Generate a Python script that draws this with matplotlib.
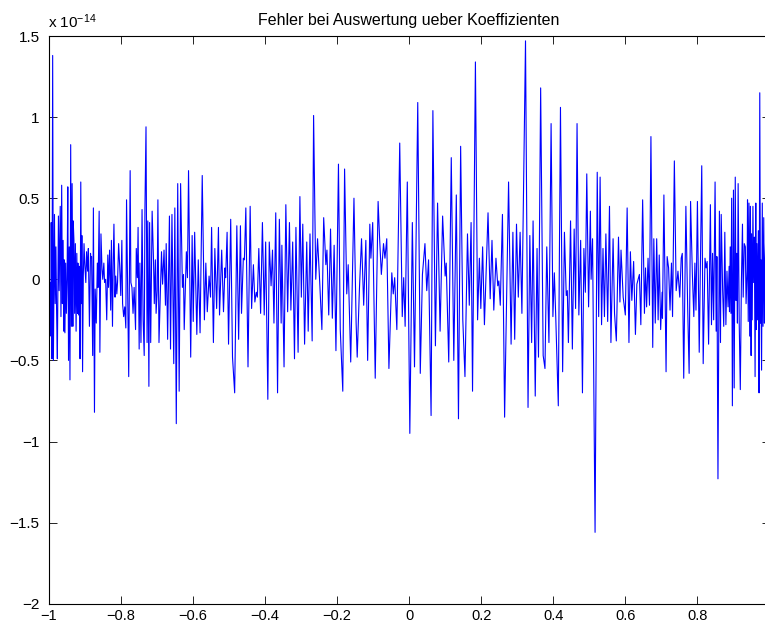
import matplotlib
matplotlib.use("Agg")
import matplotlib.pyplot as plt
import numpy as np

plt.rcParams['font.family'] = ['Liberation Sans', 'DejaVu Sans']
plt.rcParams['mathtext.fontset'] = 'custom'
plt.rcParams['mathtext.rm'] = 'Liberation Sans'
plt.rcParams['mathtext.it'] = 'Liberation Sans'

title = "Fehler bei Auswertung ueber Koeffizienten"
exponent_label = r"x 10$^{-14}$"
x_ticks = [-1, -0.8, -0.6, -0.4, -0.2, 0, 0.2, 0.4, 0.6, 0.8, 1]
y_ticks = [-2, -1.5, -1, -0.5, 0, 0.5, 1, 1.5]

# error values in units of 1e-14
x_a = [-1.000, -0.998, -0.996, -0.994, -0.993, -0.991, -0.989, -0.987, -0.984, -0.982,
       -0.980, -0.978, -0.976, -0.973, -0.971, -0.969, -0.968, -0.966, -0.964, -0.962,
       -0.960, -0.958, -0.957, -0.955, -0.953, -0.951, -0.949, -0.947, -0.945, -0.943,
       -0.941, -0.939, -0.937, -0.935, -0.933, -0.932, -0.930, -0.928, -0.926, -0.924,
       -0.922, -0.920, -0.919, -0.917, -0.915, -0.913, -0.911, -0.909, -0.908, -0.906,
       -0.904, -0.902, -0.900, -0.897, -0.895, -0.892, -0.890, -0.887, -0.884, -0.883,
       -0.881, -0.878, -0.876, -0.873, -0.871, -0.868, -0.865, -0.863, -0.860, -0.858,
       -0.855, -0.852, -0.850, -0.847, -0.845, -0.842, -0.839, -0.836, -0.834, -0.831,
       -0.828, -0.826, -0.823, -0.821, -0.819, -0.816, -0.814, -0.811, -0.809, -0.806,
       -0.803, -0.800, -0.797, -0.795, -0.792, -0.789, -0.786, -0.784, -0.781, -0.778,
       -0.774, -0.772, -0.769, -0.766, -0.763, -0.759, -0.757, -0.754, -0.752, -0.749,
       -0.747, -0.744, -0.741, -0.738, -0.735, -0.733, -0.730, -0.727, -0.725, -0.722,
       -0.720, -0.717, -0.713, -0.709, -0.707, -0.704, -0.702, -0.699, -0.697, -0.694]
y_a = [0.52, -0.19, -0.02, -0.35, 0.35, -0.49, 1.38, -0.50, 0.40, -0.15,
       0.20, -0.21, -0.49, 0.39, -0.07, 0.26, 0.45, -0.23, 0.58, -0.15,
       0.24, -0.32, 0.12, -0.33, 0.10, -0.21, 0.00, 0.57, -0.50, 0.20,
       -0.62, 0.83, -0.29, 0.59, -0.29, 0.36, 0.24, -0.21, 0.22, -0.32,
       0.16, -0.21, 0.10, -0.22, 0.08, -0.49, 0.60, -0.15, 0.27, -0.57,
       0.02, 0.22, 0.10, -0.02, 0.17, 0.05, 0.19, -0.29, 0.16, 0.13,
       0.14, -0.47, 0.44, -0.82, -0.06, -0.27, 0.10, -0.05, 0.42, -0.45,
       0.28, 0.06, 0.00, 0.10, -0.02, 0.00, -0.25, 0.15, -0.05, 0.18,
       -0.19, 0.24, -0.29, 0.10, 0.34, -0.11, 0.02, -0.09, -0.02, 0.22,
       0.08, -0.10, 0.24, -0.15, -0.23, -0.17, -0.30, 0.49, -0.07, -0.60,
       0.67, -0.02, -0.05, -0.21, -0.05, -0.31, 0.19, 0.01, 0.32, -0.43,
       0.10, -0.39, 0.43, -0.25, -0.47, 0.43, 0.94, -0.39, 0.36, -0.66,
       0.35, -0.39, 0.42, 0.10, -0.15, 0.12, -0.21, -0.07, 0.49, -0.39]

x_b = [-0.687, -0.684, -0.680, -0.676, -0.674, -0.670, -0.665, -0.662, -0.658, -0.653,
       -0.650, -0.646, -0.642, -0.638, -0.634, -0.629, -0.626, -0.624, -0.618, -0.615,
       -0.612, -0.606, -0.602, -0.599, -0.595, -0.589, -0.585, -0.580, -0.574, -0.568,
       -0.564, -0.560, -0.555, -0.551, -0.548, -0.543, -0.539, -0.534, -0.529, -0.526,
       -0.520, -0.515, -0.511, -0.509, -0.505, -0.501, -0.495, -0.490, -0.484, -0.478,
       -0.473, -0.468, -0.465, -0.460, -0.457, -0.453, -0.447, -0.441, -0.437, -0.432,
       -0.428, -0.424, -0.421, -0.417, -0.412, -0.407, -0.402, -0.398, -0.392, -0.388,
       -0.383, -0.379, -0.375, -0.370, -0.365, -0.360]
y_b = [0.17, -0.03, 0.18, -0.16, 0.22, -0.37, 0.39, -0.43, 0.40, -0.52,
       0.44, -0.89, 0.59, -0.69, 0.59, -0.05, 0.03, -0.31, 0.17, 0.01,
       0.67, -0.48, 0.27, -0.26, 0.29, -0.34, 0.12, -0.33, 0.64, -0.25,
       0.10, -0.20, 0.02, -0.11, 0.32, -0.39, 0.19, -0.18, 0.32, -0.22,
       0.18, -0.20, 0.07, 0.01, 0.29, -0.40, 0.37, -0.48, -0.70, 0.33,
       -0.37, 0.33, -0.21, 0.13, 0.12, 0.44, -0.54, 0.45, -0.18, 0.09,
       -0.14, -0.08, -0.11, 0.19, -0.21, 0.35, -0.22, 0.23, -0.74, 0.23,
       -0.04, 0.18, -0.27, 0.41, -0.70, 0.37]

x_c = [-0.355, -0.353, -0.347, -0.342, -0.337, -0.332, -0.328, -0.323, -0.318, -0.314,
       -0.308, -0.303, -0.299, -0.295, -0.290, -0.284, -0.280, -0.275, -0.269, -0.265,
       -0.259, -0.254, -0.248, -0.242, -0.237, -0.231, -0.228, -0.223, -0.218, -0.213,
       -0.208, -0.203, -0.196, -0.191, -0.184, -0.179, -0.173, -0.169, -0.162, -0.153,
       -0.147, -0.144, -0.138, -0.132, -0.126, -0.120, -0.115, -0.109, -0.106, -0.101,
       -0.094, -0.086, -0.082, -0.077, -0.071, -0.067, -0.062, -0.056, -0.048, -0.044,
       -0.040, -0.034, -0.026]
y_c = [-0.27, 0.21, -0.54, 0.46, -0.20, 0.35, -0.19, 0.23, -0.49, 0.32,
       -0.45, 0.51, -0.11, 0.34, -0.40, 0.23, -0.32, 0.28, -0.38, 1.01,
       0.00, 0.25, -0.02, -0.31, 0.38, 0.09, 0.18, -0.22, 0.31, -0.24,
       0.21, -0.44, 0.71, -0.31, -0.69, 0.68, -0.09, 0.09, -0.51, 0.50,
       -0.27, -0.48, -0.07, 0.25, -0.16, 0.24, -0.50, 0.34, 0.13, 0.35,
       -0.61, 0.48, 0.26, 0.03, 0.22, 0.13, 0.25, -0.55, 0.04, -0.09,
       0.01, -0.31, 0.84]

x_d = [-0.019, -0.015, -0.011, -0.005, 0.002, 0.009, 0.015, 0.024, 0.031, 0.037,
       0.044, 0.049, 0.054, 0.061, 0.066, 0.073, 0.079, 0.086, 0.093, 0.100,
       0.103, 0.110, 0.117, 0.124, 0.131, 0.137, 0.143, 0.149, 0.155, 0.162,
       0.167, 0.172, 0.176, 0.184, 0.190, 0.195, 0.199, 0.204, 0.209, 0.219,
       0.225, 0.230, 0.235, 0.241, 0.246, 0.249, 0.253, 0.259, 0.265, 0.276,
       0.283, 0.288, 0.293, 0.298, 0.303, 0.308]
y_d = [-0.23, 0.01, -0.29, 0.60, -0.95, 0.35, -0.54, 1.09, -0.58, 0.03,
       0.22, -0.07, 0.12, -0.84, 1.04, -0.41, 0.47, -0.32, 0.39, 0.02,
       0.10, -0.51, 0.75, -0.50, 0.52, -0.86, 0.82, -0.25, -0.60, 0.28,
       -0.16, 0.35, -0.69, 1.34, -0.25, 0.13, -0.18, 0.20, -0.28, 0.41,
       -0.12, 0.24, -0.19, 0.13, -0.04, -0.01, -0.16, 0.40, -0.85, 0.60,
       -0.40, 0.29, -0.37, 0.34, -0.11, 0.29]

x_e = [0.313, 0.323, 0.330, 0.335, 0.340, 0.344, 0.350, 0.355, 0.359, 0.365,
       0.372, 0.377, 0.382, 0.388, 0.394, 0.399, 0.403, 0.407, 0.414, 0.420,
       0.426, 0.431, 0.436, 0.439, 0.442, 0.448, 0.453, 0.458, 0.462, 0.466,
       0.471, 0.476, 0.481, 0.485, 0.489, 0.493, 0.498, 0.503, 0.505, 0.509,
       0.516, 0.522, 0.526, 0.530, 0.534, 0.538, 0.542, 0.546, 0.551, 0.556,
       0.560, 0.566, 0.570, 0.575, 0.581, 0.585, 0.588, 0.594, 0.600, 0.605,
       0.610, 0.614, 0.618, 0.623, 0.628, 0.632, 0.639]
y_e = [-0.21, 1.47, -0.79, 0.27, -0.39, 0.36, -0.72, 0.19, -0.48, 1.18,
       -0.47, -0.55, 0.20, -0.39, 0.96, -0.23, 0.04, -0.24, -0.78, 1.06,
       -0.57, 0.29, -0.10, -0.07, -0.39, 0.36, -0.43, 0.31, -0.18, 0.96,
       -0.22, 0.24, -0.70, 0.19, -0.08, 0.65, -0.17, 0.42, 0.00, 0.25,
       -1.56, 0.66, -0.23, 0.63, -0.28, 0.19, -0.23, 0.28, -0.26, 0.45,
       -0.39, 0.25, -0.21, -0.38, 0.26, -0.14, 0.18, -0.11, -0.22, 0.44,
       -0.39, 0.17, -0.13, 0.11, -0.34, -0.03, 0.03]

x_f = [0.643, 0.648, 0.653, 0.656, 0.659, 0.663, 0.667, 0.671, 0.676, 0.679,
       0.683, 0.687, 0.691, 0.694, 0.698, 0.702, 0.703, 0.707, 0.713, 0.716,
       0.720, 0.724, 0.728, 0.731, 0.736, 0.741, 0.746, 0.751, 0.755, 0.758,
       0.762, 0.768, 0.773, 0.777, 0.781, 0.786, 0.790, 0.793, 0.796, 0.800,
       0.805, 0.812, 0.816, 0.821, 0.824, 0.827, 0.831, 0.836, 0.839, 0.842,
       0.845, 0.849, 0.852, 0.854, 0.857, 0.861, 0.864, 0.866, 0.870, 0.873,
       0.876, 0.879, 0.882, 0.885, 0.888, 0.889, 0.891, 0.893, 0.895, 0.897,
       0.900, 0.902, 0.905, 0.907, 0.909, 0.911, 0.913, 0.916, 0.919, 0.922,
       0.925, 0.927, 0.930, 0.933, 0.935, 0.938, 0.939, 0.941, 0.943, 0.945,
       0.947, 0.949, 0.950, 0.952, 0.954, 0.956, 0.958, 0.960, 0.962, 0.963,
       0.965, 0.967, 0.969, 0.971, 0.973, 0.975, 0.976, 0.978, 0.980, 0.982,
       0.984, 0.986, 0.987, 0.990, 0.993, 0.996, 1.000]
y_f = [-0.28, 0.49, -0.21, 0.07, -0.17, 0.13, -0.16, 0.88, -0.42, 0.25,
       -0.27, 0.25, -0.25, 0.15, -0.31, -0.08, -0.24, 0.52, -0.57, 0.14,
       0.07, -0.19, 0.10, -0.23, 0.73, -0.07, 0.05, -0.11, 0.13, 0.16,
       -0.61, 0.45, -0.18, -0.58, 0.48, 0.03, -0.23, 0.10, -0.19, 0.48,
       -0.45, 0.70, -0.52, 0.13, 0.07, 0.11, -0.40, 0.46, -0.28, 0.16,
       -0.25, 0.60, -0.32, 0.14, -1.23, 0.42, -0.39, 0.40, -0.07, -0.29,
       0.29, -0.28, 0.05, -0.17, 0.08, -0.20, 0.20, -0.21, 0.50, -0.78,
       0.55, -0.67, 0.63, -0.13, 0.16, -0.27, 0.59, -0.27, -0.68, -0.02,
       0.34, -0.11, 0.22, 0.20, -0.15, 0.06, 0.49, -0.26, 0.47, -0.35,
       0.45, -0.47, 0.28, -0.25, 0.45, -0.02, 0.26, -0.60, 0.47, -0.31,
       0.22, -0.25, 0.30, -0.70, 1.15, -0.27, 0.12, -0.56, 0.47, -0.29,
       0.38, -0.27, 0.06, 0.30, -0.40, 0.20, -0.10]

x_vals = np.array(x_a + x_b + x_c + x_d + x_e + x_f)
err_vals = np.array(y_a + y_b + y_c + y_d + y_e + y_f)

W, H = 765, 626
fig = plt.figure(figsize=(W / 100, H / 100), dpi=100)
left_px, right_px, top_px, bottom_px = 48.7, 769.5, 36, 603.7
ax = fig.add_axes([left_px / W, 1 - bottom_px / H,
                   (right_px - left_px) / W, (bottom_px - top_px) / H])

ax.plot(x_vals, err_vals, color=(0, 0, 1), lw=0.8)
ax.set_xlim(-1, 1)
ax.set_ylim(-2, 1.5)

def fmt(v):
    return f"{v:g}".replace('-', '\u2212')

ax.set_xticks(x_ticks)
# the label of x = 1 falls outside the picture in the reference
ax.set_xticklabels([fmt(v) if v < 1 else "" for v in x_ticks])
ax.set_yticks(y_ticks)
ax.set_yticklabels([fmt(v) for v in y_ticks])
ax.tick_params(axis='both', direction='in', top=True, right=True,
               length=6, width=0.6, colors='black')
ax.tick_params(axis='x', pad=3.5, labelsize=10.5)
ax.tick_params(axis='y', pad=6.5, labelsize=11)
for s in ax.spines.values():
    s.set_linewidth(0.8)
    s.set_color('black')

ax.set_title(title, fontsize=11.5, pad=8)
fig.text(48 / W, 1 - 28 / H, exponent_label, fontsize=11,
         ha='left', va='baseline')

fig.savefig('out.png', dpi=100)
